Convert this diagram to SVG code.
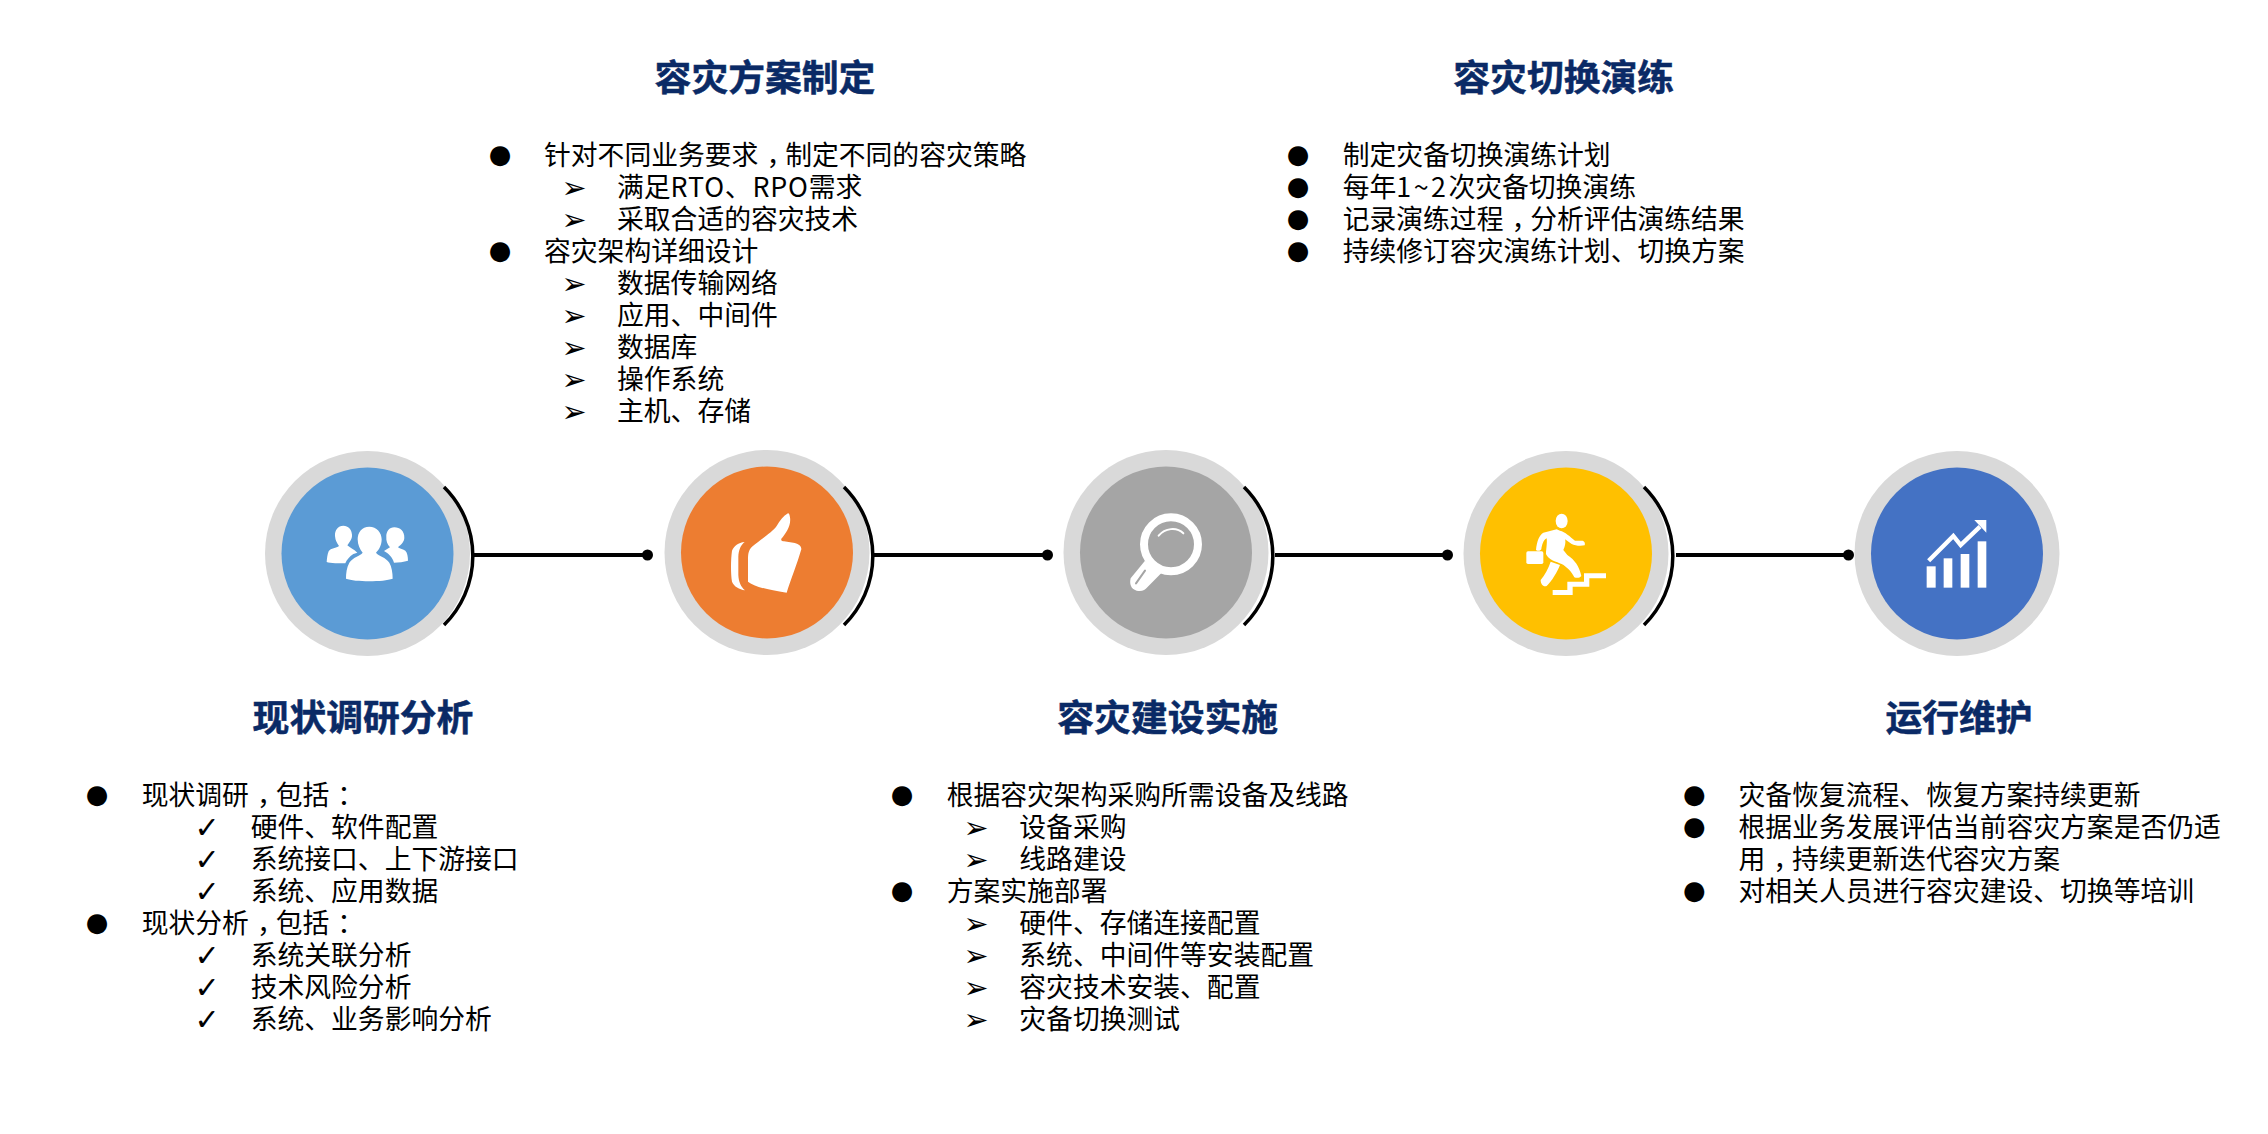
<svg xmlns="http://www.w3.org/2000/svg" width="2268" height="1134" viewBox="0 0 2268 1134">
<style>
text{font-family:"Noto Sans CJK SC","Noto Sans CJK JP",sans-serif;fill:#000}
.h{font-size:36.8px;font-weight:700;fill:#0a2a66;stroke:#0a2a66;stroke-width:.5;text-anchor:middle}
.t{font-size:26.8px}
.b{font-family:"DejaVu Sans",sans-serif;font-size:26px;text-anchor:middle;transform:translateY(-2.5px)}
.s{font-family:"DejaVu Sans",sans-serif;font-size:30px;text-anchor:middle;transform:translateY(1px)}
.ring{fill:#d9d9d9}
.i{fill:#fff}
.cn{stroke:#000;stroke-width:4;fill:none}
.arc{stroke:#000;stroke-width:3.5;fill:none}
</style>
<g id="step1">
<circle class="ring" cx="367.5" cy="553.5" r="102.5"/><circle cx="367.5" cy="553.5" r="86" fill="#5b9bd5"/>
<g class="i" transform="translate(310 510) scale(.3333)">
<path d="M178 50C155 50 143 68 143 88C143 105 150 118 158 128C150 138 128 142 118 158C110 172 108 190 108 206C135 216 220 216 248 206C248 188 245 170 238 158C228 142 205 138 198 128C208 118 215 105 215 88C215 68 200 50 178 50Z"/>
<path d="M100 47C84 47 74 60 75 78C76 92 82 100 87 108C80 114 62 114 56 124C52 134 51 146 50 156C60 160 90 160 106 160C110 150 118 140 130 132L142 128C132 118 118 112 112 106C118 96 127 88 126 74C125 58 115 47 100 47Z"/>
<path d="M253 52C238 52 228 64 229 82C228 92 232 104 240 112L222 123C235 130 248 142 252 158C265 158 282 156 294 152C294 140 292 128 286 122C280 118 270 116 264 112C272 104 282 98 283 84C284 64 270 52 253 52Z"/>
</g>
<text class="h" x="363" y="730.5">现状调研分析</text>
<text class="b" x="97" y="805">●</text><text class="t" x="141.7" y="805">现状调研<tspan dx="8">，</tspan><tspan dx="-8">包</tspan>括<tspan dx="8">：</tspan></text>
<text class="s" x="207" y="837">✓</text><text class="t" x="250.7" y="837">硬件、软件配置</text>
<text class="s" x="207" y="869">✓</text><text class="t" x="250.7" y="869">系统接口、上下游接口</text>
<text class="s" x="207" y="901">✓</text><text class="t" x="250.7" y="901">系统、应用数据</text>
<text class="b" x="97" y="933">●</text><text class="t" x="141.7" y="933">现状分析<tspan dx="8">，</tspan><tspan dx="-8">包</tspan>括<tspan dx="8">：</tspan></text>
<text class="s" x="207" y="965">✓</text><text class="t" x="250.7" y="965">系统关联分析</text>
<text class="s" x="207" y="997">✓</text><text class="t" x="250.7" y="997">技术风险分析</text>
<text class="s" x="207" y="1029">✓</text><text class="t" x="250.7" y="1029">系统、业务影响分析</text>
</g>
<g id="step2">
<circle class="ring" cx="767" cy="552.5" r="102.5"/><circle cx="767" cy="552.5" r="86" fill="#ed7d31"/>
<g class="i" transform="translate(710 500) scale(.3333)">
<path d="M234 40C220 48 210 62 200 78C188 96 150 120 126 140C116 150 114 160 114 180L114 245C130 258 170 270 230 278C242 240 262 190 274 148C275 136 262 130 250 128L222 124C218 124 212 122 214 116C228 100 244 76 240 52C239 46 238 40 234 40Z"/>
<path d="M104 126C85 128 72 138 66 152C62 180 62 220 66 245C72 260 88 268 105 271C92 260 86 245 85 225L85 170C86 150 92 136 104 126Z"/>
</g>
<text class="h" x="765" y="90.5">容灾方案制定</text>
<text class="b" x="500" y="165">●</text><text class="t" x="544" y="165">针对不同业务要求<tspan dx="8">，</tspan><tspan dx="-8">制</tspan>定不同的容灾策略</text>
<text class="s" x="574" y="197">➢</text><text class="t" x="617" y="197">满足<tspan letter-spacing=".8">RTO、RPO</tspan>需求</text>
<text class="s" x="574" y="229">➢</text><text class="t" x="617" y="229">采取合适的容灾技术</text>
<text class="b" x="500" y="261">●</text><text class="t" x="544" y="261">容灾架构详细设计</text>
<text class="s" x="574" y="293">➢</text><text class="t" x="617" y="293">数据传输网络</text>
<text class="s" x="574" y="325">➢</text><text class="t" x="617" y="325">应用、中间件</text>
<text class="s" x="574" y="357">➢</text><text class="t" x="617" y="357">数据库</text>
<text class="s" x="574" y="389">➢</text><text class="t" x="617" y="389">操作系统</text>
<text class="s" x="574" y="421">➢</text><text class="t" x="617" y="421">主机、存储</text>
</g>
<g id="step3">
<circle class="ring" cx="1166" cy="552.5" r="102.5"/><circle cx="1166" cy="552.5" r="86" fill="#a5a5a5"/>
<g transform="translate(1110 500) scale(.3333)">
<path class="i" d="M105 182L62 235C58 250 62 268 80 272C95 276 105 270 112 262L155 218Z"/>
<circle cx="183" cy="133" r="81" fill="#a5a5a5" stroke="#fff" stroke-width="24"/>
<path d="M146 107C165 84 200 80 220 100" fill="none" stroke="#fff" stroke-width="6" stroke-linecap="round"/>
<path d="M78 250L105 212" fill="none" stroke="#a5a5a5" stroke-width="6" stroke-linecap="round"/>
</g>
<text class="h" x="1167.7" y="730.5">容灾建设实施</text>
<text class="b" x="902" y="805">●</text><text class="t" x="946.7" y="805">根据容灾架构采购所需设备及线路</text>
<text class="s" x="976" y="837">➢</text><text class="t" x="1019.3" y="837">设备采购</text>
<text class="s" x="976" y="869">➢</text><text class="t" x="1019.3" y="869">线路建设</text>
<text class="b" x="902" y="901">●</text><text class="t" x="946.7" y="901">方案实施部署</text>
<text class="s" x="976" y="933">➢</text><text class="t" x="1019.3" y="933">硬件、存储连接配置</text>
<text class="s" x="976" y="965">➢</text><text class="t" x="1019.3" y="965">系统、中间件等安装配置</text>
<text class="s" x="976" y="997">➢</text><text class="t" x="1019.3" y="997">容灾技术安装、配置</text>
<text class="s" x="976" y="1029">➢</text><text class="t" x="1019.3" y="1029">灾备切换测试</text>
</g>
<g id="step4">
<circle class="ring" cx="1566" cy="553.5" r="102.5"/><circle cx="1566" cy="553.5" r="86" fill="#ffc000"/>
<g class="i" transform="translate(1510 500) scale(.3333)">
<ellipse cx="155" cy="63" rx="18" ry="22"/>
<path d="M140 88L100 98C88 104 80 125 78 150C85 155 92 152 94 148C96 135 100 120 110 115C112 130 108 150 108 162C115 180 140 185 155 192C170 200 185 215 193 232C200 235 210 234 214 228C208 200 195 180 172 165L160 150C165 140 168 125 165 118L185 132C195 138 215 138 224 136C226 130 224 124 218 122L195 122C180 110 165 95 150 92Z"/>
<path d="M122 185C115 205 105 225 92 240C92 252 100 262 110 258C125 245 142 215 150 195Z"/>
<rect x="49" y="154" width="51" height="38" rx="5"/>
<path d="M128 270H172V245H222V220H288V235H238V260H188V285H128Z"/>
</g>
<text class="h" x="1563.7" y="90.5">容灾切换演练</text>
<text class="b" x="1298" y="165">●</text><text class="t" x="1342.7" y="165">制定灾备切换演练计划</text>
<text class="b" x="1298" y="197">●</text><text class="t" x="1342.7" y="197">每年<tspan letter-spacing="2.5">1~2</tspan>次灾备切换演练</text>
<text class="b" x="1298" y="229">●</text><text class="t" x="1342.7" y="229">记录演练过程<tspan dx="8">，</tspan><tspan dx="-8">分</tspan>析评估演练结果</text>
<text class="b" x="1298" y="261">●</text><text class="t" x="1342.7" y="261">持续修订容灾演练计划、切换方案</text>
</g>
<g id="step5">
<circle class="ring" cx="1957" cy="553.5" r="102.5"/><circle cx="1957" cy="553.5" r="86" fill="#4472c4"/>
<g class="i" transform="translate(1900 500) scale(.3333)">
<rect x="80" y="199" width="27" height="64"/><rect x="131" y="175" width="26" height="88"/><rect x="182" y="162" width="26" height="101"/><rect x="233" y="124" width="26" height="139"/>
<path d="M86 182L160 108L182 135L240 80" fill="none" stroke="#fff" stroke-width="13"/>
<path d="M223 60H259V98Z"/>
</g>
<text class="h" x="1959" y="730.5">运行维护</text>
<text class="b" x="1694.4" y="805">●</text><text class="t" x="1738.5" y="805">灾备恢复流程、恢复方案持续更新</text>
<text class="b" x="1694.4" y="837">●</text><text class="t" x="1738.5" y="837">根据业务发展评估当前容灾方案是否仍适</text>
<text class="t" x="1738.5" y="869">用<tspan dx="8">，</tspan><tspan dx="-8">持</tspan>续更新迭代容灾方案</text>
<text class="b" x="1694.4" y="901">●</text><text class="t" x="1738.5" y="901">对相关人员进行容灾建设、切换等培训</text>
</g>
<g id="connectors">
<path class="cn" d="M474 555H647M874 555H1047M1275 555H1448M1676 555H1848"/>
<g fill="#000"><circle cx="647.5" cy="555" r="5.5"/><circle cx="1047.5" cy="555" r="5.5"/><circle cx="1447.5" cy="555" r="5.5"/><circle cx="1848.5" cy="555" r="5.5"/></g>
<path class="arc" d="M444 487A97 97 0 0 1 444 625M844 487A97 97 0 0 1 844 625M1244 487A97 97 0 0 1 1244 625M1644 487A97 97 0 0 1 1644 625"/>
</g>
</svg>
